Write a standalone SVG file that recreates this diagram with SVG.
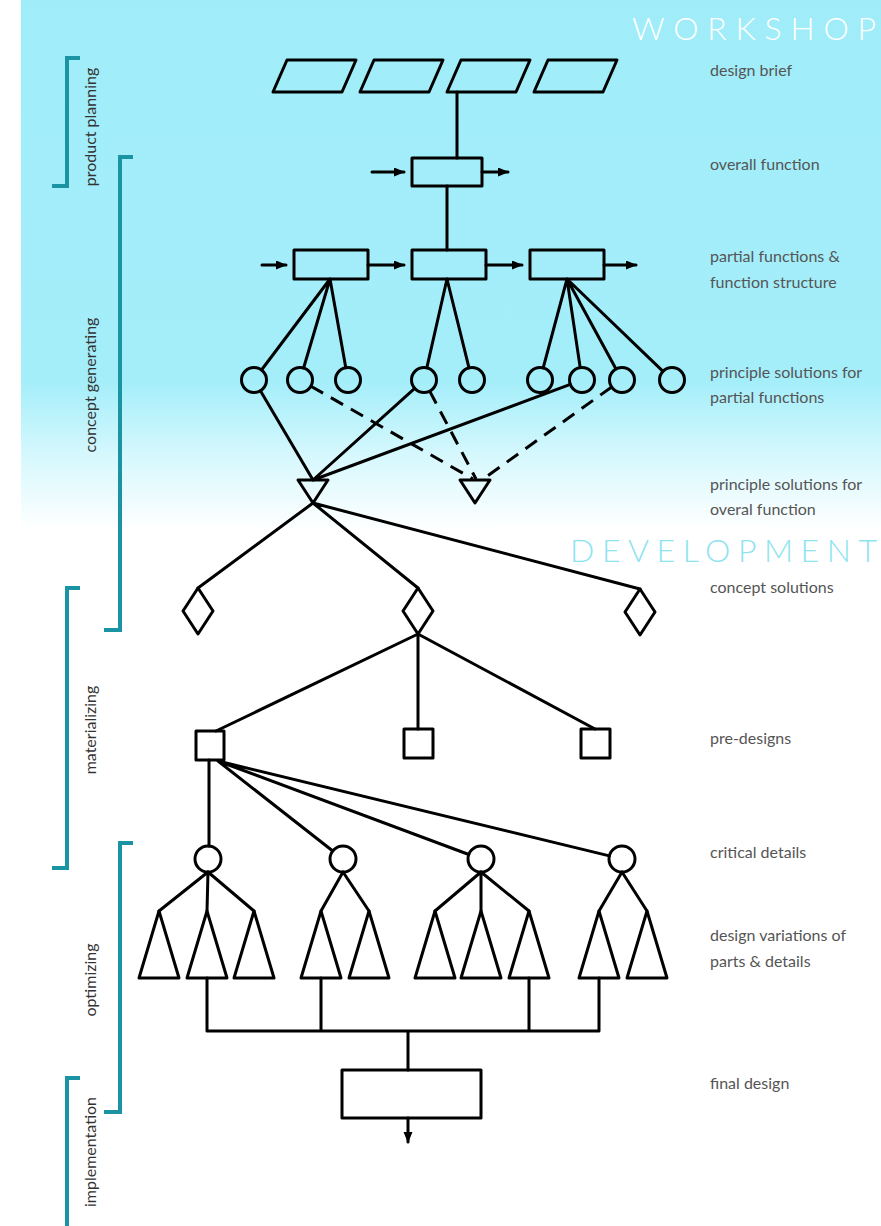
<svg xmlns="http://www.w3.org/2000/svg" width="881" height="1226" viewBox="0 0 881 1226">
<defs>
<linearGradient id="bg" x1="0" y1="0" x2="0" y2="530" gradientUnits="userSpaceOnUse">
<stop offset="0" stop-color="#a0edf9"/>
<stop offset="0.72" stop-color="#a4eefa"/>
<stop offset="0.86" stop-color="#d6f8fd"/>
<stop offset="1" stop-color="#ffffff"/>
</linearGradient>
<marker id="ah" markerUnits="userSpaceOnUse" markerWidth="11" markerHeight="10" refX="10" refY="4.5" orient="auto">
<path d="M0,0 L11,4.5 L0,9 z" fill="#000"/>
</marker>
<style>
.s{fill:none;stroke:#000;stroke-width:3;stroke-linejoin:round;stroke-linecap:round}
.n{fill:none;stroke:#000;stroke-width:3;stroke-linejoin:round}
.d{fill:none;stroke:#000;stroke-width:3;stroke-dasharray:14 9}
.br{fill:none;stroke:#1a93a3;stroke-width:4}
.lab{font-family:Lato,"Liberation Sans",sans-serif;font-size:16px;fill:#555}
.ph{font-family:Lato,"Liberation Sans",sans-serif;font-size:16px;fill:#333}
.big{font-family:Lato,"Liberation Sans",sans-serif;font-size:32px;font-weight:300}
</style>
</defs>
<rect x="0" y="0" width="881" height="1226" fill="#fff"/>
<rect x="21" y="0" width="860" height="530" fill="url(#bg)"/>
<text class="big" x="632" y="40" fill="#ffffff" textLength="244" lengthAdjust="spacing">WORKSHOP</text>
<text class="big" x="570" y="562" fill="#8ee3f1" textLength="307" lengthAdjust="spacing">DEVELOPMENT</text>

<g id="phases">
<path class="br" d="M80,58 H67 V186 H52"/>
<text class="ph" transform="translate(96,127) rotate(-90)" text-anchor="middle">product planning</text>
<path class="br" d="M133,157 H120 V630 H104"/>
<text class="ph" transform="translate(96,385) rotate(-90)" text-anchor="middle">concept generating</text>
<path class="br" d="M80,588 H67 V868 H52"/>
<text class="ph" transform="translate(96,730) rotate(-90)" text-anchor="middle">materializing</text>
<path class="br" d="M133,843 H120 V1112 H104"/>
<text class="ph" transform="translate(96,980) rotate(-90)" text-anchor="middle">optimizing</text>
<path class="br" d="M80,1078 H67 V1226"/>
<text class="ph" transform="translate(96,1152) rotate(-90)" text-anchor="middle">implementation</text>
</g>

<g id="labels">
<text class="lab" x="710" y="76">design brief</text>
<text class="lab" x="710" y="170">overall function</text>
<text class="lab" x="710" y="262">partial functions &amp;</text>
<text class="lab" x="710" y="288">function structure</text>
<text class="lab" x="710" y="378">principle solutions for</text>
<text class="lab" x="710" y="403">partial functions</text>
<text class="lab" x="710" y="490">principle solutions for</text>
<text class="lab" x="710" y="515">overal function</text>
<text class="lab" x="710" y="593">concept solutions</text>
<text class="lab" x="710" y="744">pre-designs</text>
<text class="lab" x="710" y="858">critical details</text>
<text class="lab" x="710" y="941">design variations of</text>
<text class="lab" x="710" y="967">parts &amp; details</text>
<text class="lab" x="710" y="1089">final design</text>
</g>

<g id="connectors">
<line class="s" x1="457" y1="92" x2="457" y2="158"/>
<line class="s" x1="372" y1="172" x2="404" y2="172" marker-end="url(#ah)"/>
<line class="s" x1="482" y1="172" x2="508" y2="172" marker-end="url(#ah)"/>
<line class="s" x1="447" y1="186" x2="447" y2="250"/>
<line class="s" x1="262" y1="265" x2="286" y2="265" marker-end="url(#ah)"/>
<line class="s" x1="368" y1="265" x2="404" y2="265" marker-end="url(#ah)"/>
<line class="s" x1="486" y1="265" x2="522" y2="265" marker-end="url(#ah)"/>
<line class="s" x1="604" y1="265" x2="636" y2="265" marker-end="url(#ah)"/>
<path class="s" d="M330,279 L261.5,370 M330,279 L303.6,368 M330,279 L345.8,367.7"/>
<path class="s" d="M447,279 L426.8,367.8 M447,279 L469,367.9"/>
<path class="s" d="M567,279 L543.2,367.9 M567,279 L580.2,367.6 M567,279 L616,369 M567,279 L663,371.3"/>
<path class="s" d="M260.4,390.8 L313,480 M414.7,388.4 L313,480 M570.3,384.4 L313,480"/>
<path class="d" d="M310.9,386.2 L473,479"/>
<path class="d" d="M429.7,391.1 L476,479"/>
<path class="d" d="M611.7,387 L486,477"/>
<path class="s" d="M313,503 L198,588 M313,503 L418,588 M313,503 L640,589"/>
<path class="s" d="M418,634 L216,731 M418,634 L418,729 M418,634 L595,729"/>
<path class="s" d="M209,760 L209,846 M218,761 L332.8,851 M218,761 L468.8,854.5 M218,761 L609.4,855.9"/>
<path class="s" d="M208,872 L159,911 M208,872 L207,911 M208,872 L254,911"/>
<path class="s" d="M343,872 L321,911 M343,872 L369,911"/>
<path class="s" d="M481,872 L435,911 M481,872 L481,911 M481,872 L529,911"/>
<path class="s" d="M622,872 L599,911 M622,872 L647,911"/>
<path class="s" d="M207,978 V1031 M321,978 V1031 M529,978 V1031 M599,978 V1031 M207,1031 H599 M408,1031 V1070"/>
<line class="s" x1="408" y1="1118" x2="408" y2="1142" marker-end="url(#ah)"/>
</g>

<g id="design-brief">
<path class="n" d="M287,60 H356 L342,92 H273 Z"/>
<path class="n" d="M374,60 H443 L429,92 H360 Z"/>
<path class="n" d="M461,60 H530 L516,92 H447 Z"/>
<path class="n" d="M548,60 H617 L603,92 H534 Z"/>
</g>
<g id="overall-function"><rect class="n" x="412" y="158" width="70" height="28"/></g>
<g id="partial-functions">
<rect class="n" x="294" y="250" width="74" height="29"/>
<rect class="n" x="412" y="250" width="74" height="29"/>
<rect class="n" x="530" y="250" width="74" height="29"/>
</g>
<g id="principle-partial">
<circle class="n" cx="254" cy="380" r="12.5"/>
<circle class="n" cx="300" cy="380" r="12.5"/>
<circle class="n" cx="348" cy="380" r="12.5"/>
<circle class="n" cx="424" cy="380" r="12.5"/>
<circle class="n" cx="472" cy="380" r="12.5"/>
<circle class="n" cx="540" cy="380" r="12.5"/>
<circle class="n" cx="582" cy="380" r="12.5"/>
<circle class="n" cx="622" cy="380" r="12.5"/>
<circle class="n" cx="672" cy="380" r="12.5"/>
</g>
<g id="principle-overall">
<path class="n" d="M298,480 H328 L313,503 Z"/>
<path class="n" d="M460,480 H490 L475,503 Z"/>
</g>
<g id="concept-solutions">
<path class="n" d="M198,588 L213,611 L198,634 L183,611 Z"/>
<path class="n" d="M418,588 L433,611 L418,634 L403,611 Z"/>
<path class="n" d="M640,589 L655,612 L640,635 L625,612 Z"/>
</g>
<g id="pre-designs">
<rect class="n" x="196" y="731" width="28" height="29"/>
<rect class="n" x="404" y="729" width="29" height="29"/>
<rect class="n" x="581" y="729" width="29" height="29"/>
</g>
<g id="critical-details">
<circle class="n" cx="208" cy="859" r="13"/>
<circle class="n" cx="343" cy="859" r="13"/>
<circle class="n" cx="481" cy="859" r="13"/>
<circle class="n" cx="622" cy="859" r="13"/>
</g>
<g id="design-variations">
<path class="n" d="M159,911 L179,978 H139 Z"/>
<path class="n" d="M207,911 L227,978 H187 Z"/>
<path class="n" d="M254,911 L274,978 H234 Z"/>
<path class="n" d="M321,911 L341,978 H301 Z"/>
<path class="n" d="M369,911 L389,978 H349 Z"/>
<path class="n" d="M435,911 L455,978 H415 Z"/>
<path class="n" d="M481,911 L501,978 H461 Z"/>
<path class="n" d="M529,911 L549,978 H509 Z"/>
<path class="n" d="M599,911 L619,978 H579 Z"/>
<path class="n" d="M647,911 L667,978 H627 Z"/>
</g>
<g id="final-design"><rect class="n" x="342" y="1070" width="139" height="48"/></g>
</svg>
